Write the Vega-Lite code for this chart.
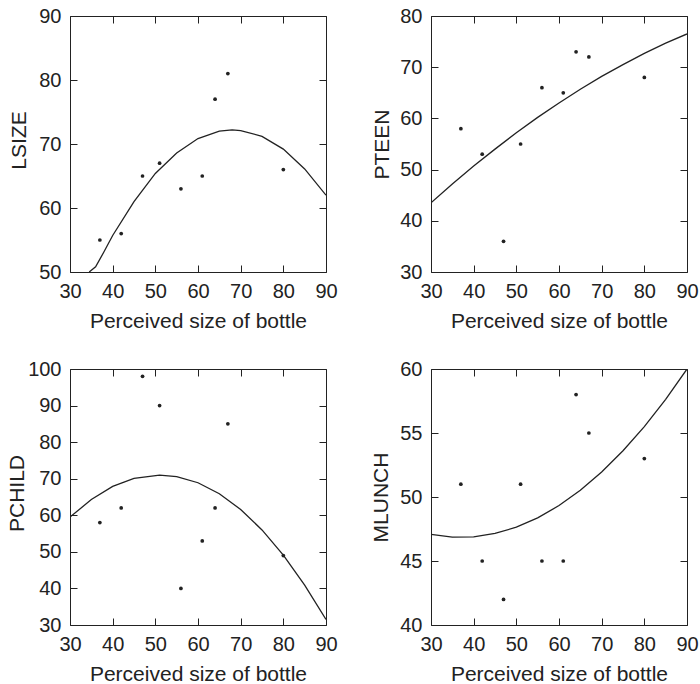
{
  "$schema": "https://vega.github.io/schema/vega-lite/v6.json",
  "background": "white",
  "padding": {"left": 5, "top": 5, "right": 0, "bottom": 0},
  "datasets": {
    "pts": [
      {"x": 37, "LSIZE": 55, "PTEEN": 58, "PCHILD": 58, "MLUNCH": 51},
      {"x": 42, "LSIZE": 56, "PTEEN": 53, "PCHILD": 62, "MLUNCH": 45},
      {"x": 47, "LSIZE": 65, "PTEEN": 36, "PCHILD": 98, "MLUNCH": 42},
      {"x": 51, "LSIZE": 67, "PTEEN": 55, "PCHILD": 90, "MLUNCH": 51},
      {"x": 56, "LSIZE": 63, "PTEEN": 66, "PCHILD": 40, "MLUNCH": 45},
      {"x": 61, "LSIZE": 65, "PTEEN": 65, "PCHILD": 53, "MLUNCH": 45},
      {"x": 64, "LSIZE": 77, "PTEEN": 73, "PCHILD": 62, "MLUNCH": 58},
      {"x": 67, "LSIZE": 81, "PTEEN": 72, "PCHILD": 85, "MLUNCH": 55},
      {"x": 80, "LSIZE": 66, "PTEEN": 68, "PCHILD": 49, "MLUNCH": 53}
    ],
    "curves": [
      {"v": "LSIZE", "x": 34.5, "y": 50},
      {"v": "LSIZE", "x": 36, "y": 50.8},
      {"v": "LSIZE", "x": 38, "y": 53.2},
      {"v": "LSIZE", "x": 40, "y": 55.7},
      {"v": "LSIZE", "x": 45, "y": 61.0},
      {"v": "LSIZE", "x": 50, "y": 65.4},
      {"v": "LSIZE", "x": 55, "y": 68.6},
      {"v": "LSIZE", "x": 60, "y": 70.85},
      {"v": "LSIZE", "x": 65, "y": 72.0},
      {"v": "LSIZE", "x": 68, "y": 72.2},
      {"v": "LSIZE", "x": 70, "y": 72.1},
      {"v": "LSIZE", "x": 75, "y": 71.2},
      {"v": "LSIZE", "x": 80, "y": 69.2},
      {"v": "LSIZE", "x": 85, "y": 66.1},
      {"v": "LSIZE", "x": 90, "y": 62.0},
      {"v": "PTEEN", "x": 30, "y": 43.5},
      {"v": "PTEEN", "x": 35, "y": 47.2},
      {"v": "PTEEN", "x": 40, "y": 50.7},
      {"v": "PTEEN", "x": 45, "y": 54.0},
      {"v": "PTEEN", "x": 50, "y": 57.2},
      {"v": "PTEEN", "x": 55, "y": 60.2},
      {"v": "PTEEN", "x": 60, "y": 63.0},
      {"v": "PTEEN", "x": 65, "y": 65.7},
      {"v": "PTEEN", "x": 70, "y": 68.2},
      {"v": "PTEEN", "x": 75, "y": 70.5},
      {"v": "PTEEN", "x": 80, "y": 72.7},
      {"v": "PTEEN", "x": 85, "y": 74.7},
      {"v": "PTEEN", "x": 90, "y": 76.5},
      {"v": "PCHILD", "x": 30, "y": 59.5},
      {"v": "PCHILD", "x": 35, "y": 64.3},
      {"v": "PCHILD", "x": 40, "y": 67.9},
      {"v": "PCHILD", "x": 45, "y": 70.1},
      {"v": "PCHILD", "x": 51, "y": 71.0},
      {"v": "PCHILD", "x": 55, "y": 70.6},
      {"v": "PCHILD", "x": 60, "y": 68.9},
      {"v": "PCHILD", "x": 65, "y": 65.9},
      {"v": "PCHILD", "x": 70, "y": 61.6},
      {"v": "PCHILD", "x": 75, "y": 56.0},
      {"v": "PCHILD", "x": 80, "y": 49.1},
      {"v": "PCHILD", "x": 85, "y": 40.9},
      {"v": "PCHILD", "x": 90, "y": 31.5},
      {"v": "MLUNCH", "x": 30, "y": 47.08},
      {"v": "MLUNCH", "x": 35, "y": 46.87},
      {"v": "MLUNCH", "x": 40, "y": 46.89},
      {"v": "MLUNCH", "x": 45, "y": 47.15},
      {"v": "MLUNCH", "x": 50, "y": 47.64},
      {"v": "MLUNCH", "x": 55, "y": 48.37},
      {"v": "MLUNCH", "x": 60, "y": 49.33},
      {"v": "MLUNCH", "x": 65, "y": 50.52},
      {"v": "MLUNCH", "x": 70, "y": 51.95},
      {"v": "MLUNCH", "x": 75, "y": 53.61},
      {"v": "MLUNCH", "x": 80, "y": 55.5},
      {"v": "MLUNCH", "x": 85, "y": 57.63},
      {"v": "MLUNCH", "x": 90, "y": 60.0}
    ]
  },
  "columns": 2,
  "spacing": {"row": 97, "column": 105},
  "bounds": "flush",
  "concat": [
    {
      "width": 256, "height": 256,
      "layer": [
        {
          "data": {"name": "pts"},
          "mark": {"type": "circle", "size": 14, "color": "#222", "opacity": 1},
          "encoding": {
            "x": {"field": "x", "type": "quantitative", "scale": {"domain": [30, 90], "nice": false, "zero": false},
                  "axis": {"orient": "bottom", "values": [30, 40, 50, 60, 70, 80, 90], "title": "Perceived size of bottle", "titleY": 62, "titleBaseline": "alphabetic"}},
            "y": {"field": "LSIZE", "type": "quantitative", "scale": {"domain": [50, 90], "nice": false, "zero": false},
                  "axis": {"orient": "left", "values": [50, 60, 70, 80, 90], "title": "LSIZE", "titleX": -52, "titleY": 124, "titleBaseline": "alphabetic"}}
          }
        },
        {
          "data": {"name": "curves"},
          "transform": [{"filter": "datum.v === 'LSIZE'"}],
          "mark": {"type": "line", "clip": true, "color": "#222", "strokeWidth": 1.3},
          "encoding": {
            "x": {"field": "x", "type": "quantitative", "axis": {"orient": "top", "values": [30, 40, 50, 60, 70, 80, 90], "labels": false, "title": null}},
            "y": {"field": "y", "type": "quantitative", "axis": {"orient": "right", "values": [50, 60, 70, 80, 90], "labels": false, "title": null}}
          }
        }
      ],
      "resolve": {"axis": {"x": "independent", "y": "independent"}}
    },
    {
      "width": 256, "height": 256,
      "layer": [
        {
          "data": {"name": "pts"},
          "mark": {"type": "circle", "size": 14, "color": "#222", "opacity": 1},
          "encoding": {
            "x": {"field": "x", "type": "quantitative", "scale": {"domain": [30, 90], "nice": false, "zero": false},
                  "axis": {"orient": "bottom", "values": [30, 40, 50, 60, 70, 80, 90], "title": "Perceived size of bottle", "titleY": 62, "titleBaseline": "alphabetic"}},
            "y": {"field": "PTEEN", "type": "quantitative", "scale": {"domain": [30, 80], "nice": false, "zero": false},
                  "axis": {"orient": "left", "values": [30, 40, 50, 60, 70, 80], "title": "PTEEN", "titleX": -50, "titleY": 128, "titleBaseline": "alphabetic"}}
          }
        },
        {
          "data": {"name": "curves"},
          "transform": [{"filter": "datum.v === 'PTEEN'"}],
          "mark": {"type": "line", "clip": true, "color": "#222", "strokeWidth": 1.3},
          "encoding": {
            "x": {"field": "x", "type": "quantitative", "axis": {"orient": "top", "values": [30, 40, 50, 60, 70, 80, 90], "labels": false, "title": null}},
            "y": {"field": "y", "type": "quantitative", "axis": {"orient": "right", "values": [30, 40, 50, 60, 70, 80], "labels": false, "title": null}}
          }
        }
      ],
      "resolve": {"axis": {"x": "independent", "y": "independent"}}
    },
    {
      "width": 256, "height": 256,
      "layer": [
        {
          "data": {"name": "pts"},
          "mark": {"type": "circle", "size": 14, "color": "#222", "opacity": 1},
          "encoding": {
            "x": {"field": "x", "type": "quantitative", "scale": {"domain": [30, 90], "nice": false, "zero": false},
                  "axis": {"orient": "bottom", "values": [30, 40, 50, 60, 70, 80, 90], "title": "Perceived size of bottle", "titleY": 62, "titleBaseline": "alphabetic"}},
            "y": {"field": "PCHILD", "type": "quantitative", "scale": {"domain": [30, 100], "nice": false, "zero": false},
                  "axis": {"orient": "left", "values": [30, 40, 50, 60, 70, 80, 90, 100], "title": "PCHILD", "titleX": -54, "titleY": 124, "titleBaseline": "alphabetic"}}
          }
        },
        {
          "data": {"name": "curves"},
          "transform": [{"filter": "datum.v === 'PCHILD'"}],
          "mark": {"type": "line", "clip": true, "color": "#222", "strokeWidth": 1.3},
          "encoding": {
            "x": {"field": "x", "type": "quantitative", "axis": {"orient": "top", "values": [30, 40, 50, 60, 70, 80, 90], "labels": false, "title": null}},
            "y": {"field": "y", "type": "quantitative", "axis": {"orient": "right", "values": [30, 40, 50, 60, 70, 80, 90, 100], "labels": false, "title": null}}
          }
        }
      ],
      "resolve": {"axis": {"x": "independent", "y": "independent"}}
    },
    {
      "width": 256, "height": 256,
      "layer": [
        {
          "data": {"name": "pts"},
          "mark": {"type": "circle", "size": 14, "color": "#222", "opacity": 1},
          "encoding": {
            "x": {"field": "x", "type": "quantitative", "scale": {"domain": [30, 90], "nice": false, "zero": false},
                  "axis": {"orient": "bottom", "values": [30, 40, 50, 60, 70, 80, 90], "title": "Perceived size of bottle", "titleY": 62, "titleBaseline": "alphabetic"}},
            "y": {"field": "MLUNCH", "type": "quantitative", "scale": {"domain": [40, 60], "nice": false, "zero": false},
                  "axis": {"orient": "left", "values": [40, 45, 50, 55, 60], "title": "MLUNCH", "titleX": -51, "titleY": 128, "titleBaseline": "alphabetic"}}
          }
        },
        {
          "data": {"name": "curves"},
          "transform": [{"filter": "datum.v === 'MLUNCH'"}],
          "mark": {"type": "line", "clip": true, "color": "#222", "strokeWidth": 1.3},
          "encoding": {
            "x": {"field": "x", "type": "quantitative", "axis": {"orient": "top", "values": [30, 40, 50, 60, 70, 80, 90], "labels": false, "title": null}},
            "y": {"field": "y", "type": "quantitative", "axis": {"orient": "right", "values": [40, 45, 50, 55, 60], "labels": false, "title": null}}
          }
        }
      ],
      "resolve": {"axis": {"x": "independent", "y": "independent"}}
    }
  ],
  "config": {
    "view": {"stroke": "#222", "strokeWidth": 1},
    "axis": {
      "grid": false,
      "domain": false,
      "ticks": true,
      "offset": -7,
      "tickSize": 7,
      "tickColor": "#222",
      "tickOpacity": 1,
      "tickWidth": 1,
      "zindex": 1,
      "labelPadding": 9,
      "labelFlush": false,
      "labelFont": "Liberation Sans",
      "labelFontSize": 20,
      "labelColor": "#222",
      "titleFont": "Liberation Sans",
      "titleFontSize": 21,
      "titleFontWeight": "normal",
      "titleColor": "#222"
    }
  }
}
